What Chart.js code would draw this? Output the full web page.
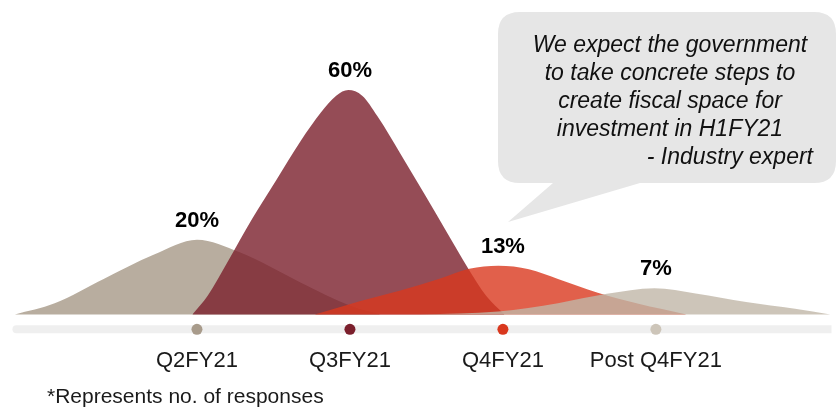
<!DOCTYPE html>
<html>
<head>
<meta charset="utf-8">
<script src="https://cdn.jsdelivr.net/npm/chart.js@4/dist/chart.umd.min.js"></script>
<style>
  html, body { margin: 0; padding: 0; background: #fff; }
</style>
</head>
<body>
<canvas id="chart" width="837" height="408"></canvas>
<script>
const categories = ['Q2FY21', 'Q3FY21', 'Q4FY21', 'Post Q4FY21'];
const shares = [20, 60, 13, 7]; // % of responses
const dotColors = ['#a89b8b', '#7b1f2c', '#d9381e', '#cdc5b9'];
const footnote = '*Represents no. of responses';
const quoteLines = [
	'We expect the government',
	'to take concrete steps to',
	'create fiscal space for',
	'investment in H1FY21',
];
const quoteAuthor = '- Industry expert';

// outline of each hump
// x in category units (1 = Q2FY21 ... 4 = Post Q4FY21), y in %
const q2X = [-0.19, 0.07, 0.39, 0.72, 1, 1.28, 1.68, 2.01, 2.2];
const q2Y = [0, 3, 9.5, 16, 20, 16.6, 8.5, 2.2, 0];
const q3X = [0.97, 1.07, 1.2, 1.36, 1.52, 1.68, 1.81, 1.91, 1.99, 2.08, 2.18, 2.33, 2.49, 2.64, 2.77, 2.89, 3.01];
const q3Y = [0, 5, 14, 25.5, 36, 46.5, 54, 58.5, 60, 58.5, 53, 43, 32, 21.5, 12.5, 5, 0];
const q4X = [1.77, 2.07, 2.33, 2.59, 2.78, 2.97, 3.17, 3.36, 3.62, 3.88, 4.2];
const q4Y = [0, 3.6, 6.4, 9.6, 12.2, 13, 12.1, 9.5, 5.8, 2.9, 0];
const postX = [2.46, 2.97, 3.36, 3.68, 3.99, 4.26, 4.59, 4.91, 5.14];
const postY = [0, 0.8, 3, 5.5, 7, 5.6, 3.3, 1.5, 0];

const markerY = -4; // row of dots under the humps
const trackX = [-0.18, 5.4];

const FONT = '"Liberation Sans", Arial, sans-serif';
Chart.defaults.font.family = FONT;

function pts(xs, ys) {
	return xs.map((x, i) => ({ x: x, y: ys[i] }));
}

function hump(xs, ys, color, order) {
	return {
		data: pts(xs, ys),
		backgroundColor: color,
		borderWidth: 0,
		pointRadius: 0,
		fill: 'origin',
		cubicInterpolationMode: 'monotone',
		order: order,
	};
}

const extras = {
	id: 'extras',
	afterDatasetsDraw(chart) {
		const { ctx, scales } = chart;
		const x = scales.x;
		const y = scales.y;
		ctx.save();

		// value above each peak
		ctx.font = 'bold 22px ' + FONT;
		ctx.fillStyle = '#000';
		ctx.textAlign = 'center';
		ctx.textBaseline = 'middle';
		shares.forEach((v, i) => {
			ctx.fillText(v + '%', x.getPixelForValue(i + 1), y.getPixelForValue(v) - 19);
		});

		// speech bubble
		const bx = 498, by = 12, bw = 338, bh = 171, r = 22;
		ctx.fillStyle = '#e6e6e6';
		ctx.beginPath();
		ctx.moveTo(bx + r, by);
		ctx.lineTo(bx + bw - r, by);
		ctx.quadraticCurveTo(bx + bw, by, bx + bw, by + r);
		ctx.lineTo(bx + bw, by + bh - r);
		ctx.quadraticCurveTo(bx + bw, by + bh, bx + bw - r, by + bh);
		ctx.lineTo(640, by + bh);
		ctx.lineTo(508, 222);
		ctx.lineTo(553, by + bh);
		ctx.lineTo(bx + r, by + bh);
		ctx.quadraticCurveTo(bx, by + bh, bx, by + bh - r);
		ctx.lineTo(bx, by + r);
		ctx.quadraticCurveTo(bx, by, bx + r, by);
		ctx.closePath();
		ctx.fill();

		ctx.fillStyle = '#111';
		ctx.font = 'italic 23px ' + FONT;
		ctx.textBaseline = 'alphabetic';
		quoteLines.forEach((line, i) => ctx.fillText(line, 670, 52 + i * 28));
		ctx.textAlign = 'right';
		ctx.fillText(quoteAuthor, 813, 52 + quoteLines.length * 28);

		// footnote
		ctx.textAlign = 'left';
		ctx.font = '21px ' + FONT;
		ctx.fillStyle = '#1a1a1a';
		ctx.fillText(footnote, 47, 403);
		ctx.restore();
	},
};

new Chart(document.getElementById('chart'), {
	type: 'line',
	data: {
		datasets: [
			{
				type: 'scatter',
				data: categories.map((c, i) => ({ x: i + 1, y: markerY })),
				pointRadius: 5.5,
				pointBackgroundColor: dotColors,
				pointBorderWidth: 0,
				order: 0,
			},
			hump(postX, postY, 'rgba(192, 182, 168, 0.8)', 1),
			hump(q4X, q4Y, 'rgba(217, 56, 30, 0.8)', 2),
			hump(q3X, q3Y, 'rgba(123, 31, 44, 0.8)', 3),
			hump(q2X, q2Y, '#b8ad9f', 4),
			{
				data: pts(trackX, [markerY, markerY]),
				borderColor: '#efefef',
				borderWidth: 8,
				borderCapStyle: 'round',
				pointRadius: 0,
				fill: false,
				order: 5,
			},
		],
	},
	options: {
		responsive: false,
		animation: false,
		events: [],
		layout: { padding: { left: 0, right: 0, top: 0, bottom: 28 } },
		plugins: {
			legend: { display: false },
			tooltip: { enabled: false },
		},
		scales: {
			x: {
				type: 'linear',
				min: -0.2516,
				max: 5.148,
				grid: { display: false, drawTicks: false },
				border: { display: false },
				afterBuildTicks: (s) => {
					s.ticks = categories.map((c, i) => ({ value: i + 1 }));
				},
				afterFit: (s) => {
					s.height = 40;
				},
				ticks: {
					autoSkip: false,
					maxRotation: 0,
					padding: 8,
					color: '#1a1a1a',
					font: { size: 22 },
					callback: (v) => categories[v - 1] || '',
				},
			},
			y: {
				display: false,
				min: -6.842,
				max: 82.63,
			},
		},
	},
	plugins: [extras],
});
</script>
</body>
</html>
